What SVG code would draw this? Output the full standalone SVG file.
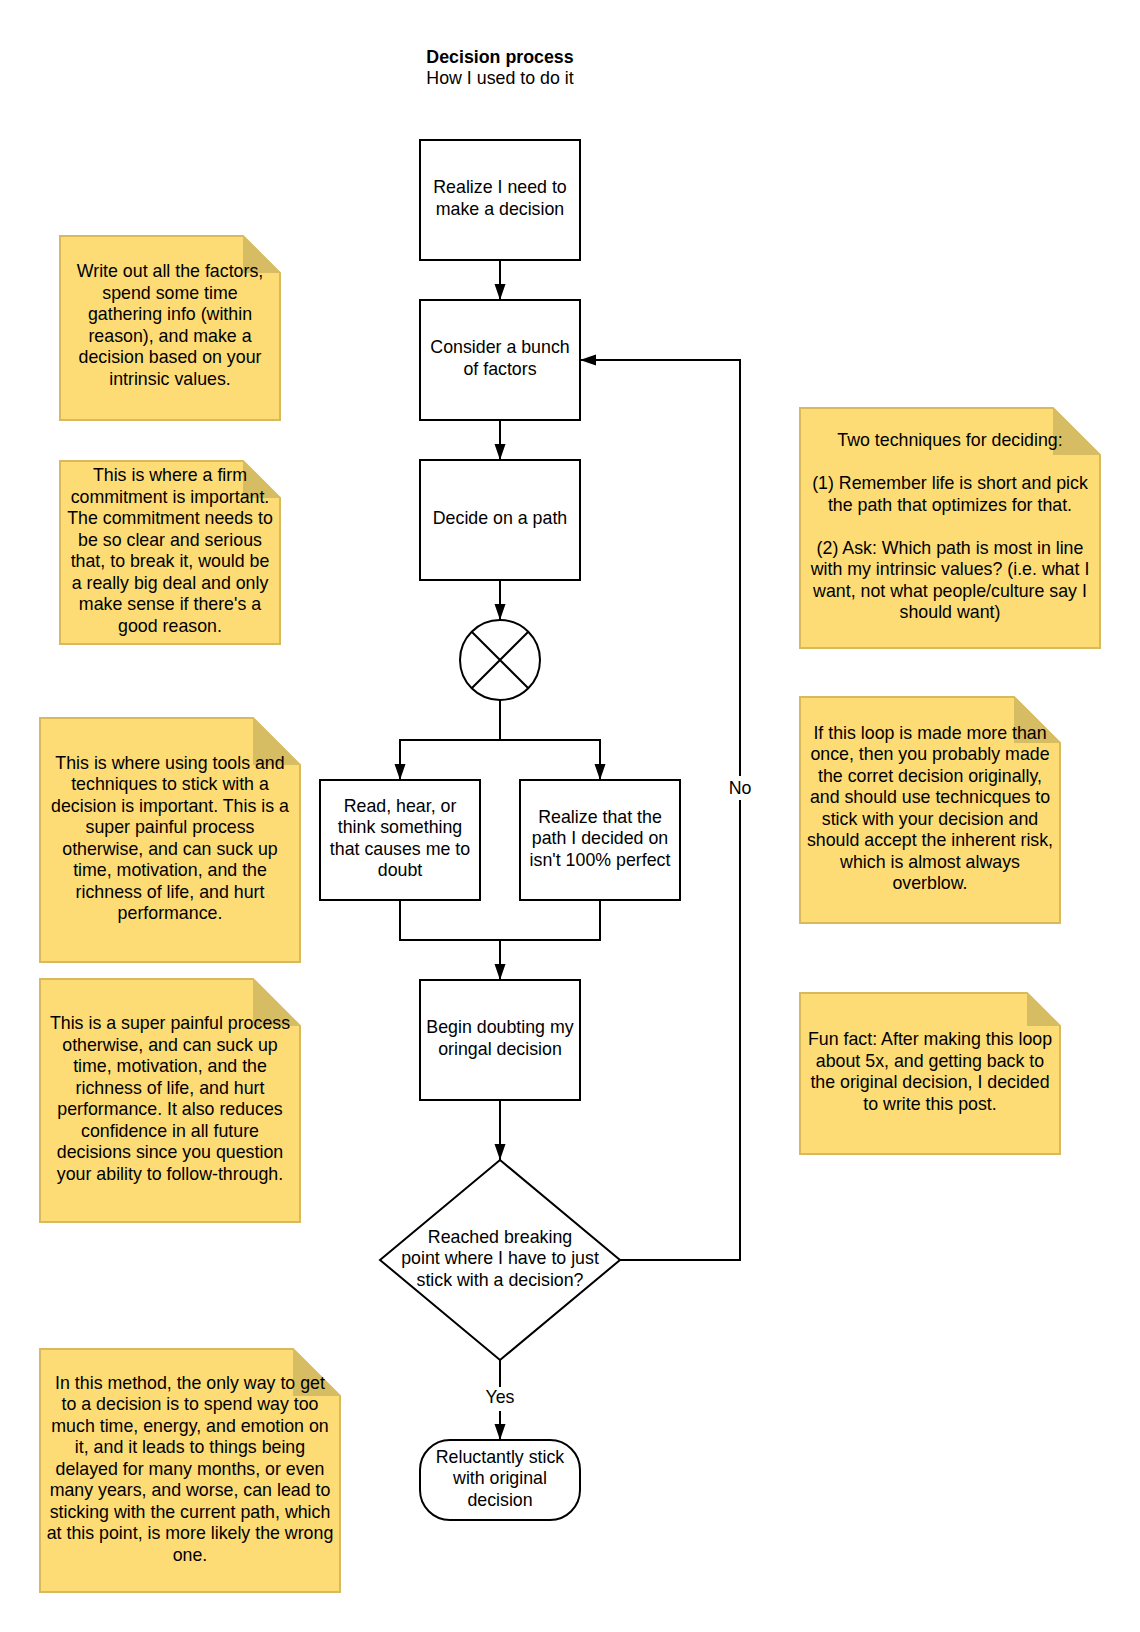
<svg xmlns="http://www.w3.org/2000/svg" width="1140" height="1632" viewBox="0 0 1140 1632">
<defs>
<marker id="arr" markerUnits="userSpaceOnUse" markerWidth="17" markerHeight="12" refX="16" refY="5.5" orient="auto">
<path d="M0,0 L16,5.5 L0,11 z" fill="#000"/>
</marker>
<style>
text{font-family:"Liberation Sans",Arial,sans-serif;font-size:17.8px;fill:#000;text-anchor:middle}
.b{font-weight:bold}
.box{fill:#fff;stroke:#000;stroke-width:2}
.note{fill:#FDDC76;stroke:#D8B95B;stroke-width:2}
.fold{fill:#D6BD63}
.con{fill:none;stroke:#000;stroke-width:2}
.lbl{fill:#fff}
</style>
</defs>
<rect width="1140" height="1632" fill="#fff"/>

<g id="title">
<text class="b" x="500" y="62.5">Decision process</text>
<text x="500" y="84">How I used to do it</text>
</g>

<g id="connectors">
<path class="con" d="M500,260 V300" marker-end="url(#arr)"/>
<path class="con" d="M500,420 V460" marker-end="url(#arr)"/>
<path class="con" d="M500,580 V620" marker-end="url(#arr)"/>
<path class="con" d="M500,700 V740 H400 V780" marker-end="url(#arr)"/>
<path class="con" d="M500,740 H600 V780" marker-end="url(#arr)"/>
<path class="con" d="M400,900 V940 H500 V980" marker-end="url(#arr)"/>
<path class="con" d="M600,900 V940 H500"/>
<path class="con" d="M500,1100 V1160" marker-end="url(#arr)"/>
<path class="con" d="M500,1360 V1440" marker-end="url(#arr)"/>
<path class="con" d="M620,1260 H740 V360 H580" marker-end="url(#arr)"/>
<rect class="lbl" x="724" y="776" width="32" height="24"/>
<text x="740" y="794">No</text>
<rect class="lbl" x="482" y="1387" width="36" height="24"/>
<text x="500" y="1403">Yes</text>
</g>

<g id="n-realize">
<rect class="box" x="420" y="140" width="160" height="120"/>
<text x="500" y="193.3">Realize I need to</text>
<text x="500" y="214.8">make a decision</text>
</g>

<g id="n-consider">
<rect class="box" x="420" y="300" width="160" height="120"/>
<text x="500" y="353.3">Consider a bunch</text>
<text x="500" y="374.8">of factors</text>
</g>

<g id="n-decide">
<rect class="box" x="420" y="460" width="160" height="120"/>
<text x="500" y="524">Decide on a path</text>
</g>

<g id="n-junction">
<circle class="box" cx="500" cy="660" r="40"/>
<path class="con" d="M471.7,631.7 L528.3,688.3 M528.3,631.7 L471.7,688.3"/>
</g>

<g id="n-read">
<rect class="box" x="320" y="780" width="160" height="120"/>
<text x="400" y="811.8">Read, hear, or</text>
<text x="400" y="833.3">think something</text>
<text x="400" y="854.8">that causes me to</text>
<text x="400" y="876.3">doubt</text>
</g>

<g id="n-imperfect">
<rect class="box" x="520" y="780" width="160" height="120"/>
<text x="600" y="822.5">Realize that the</text>
<text x="600" y="844">path I decided on</text>
<text x="600" y="865.5">isn't 100% perfect</text>
</g>

<g id="n-doubt">
<rect class="box" x="420" y="980" width="160" height="120"/>
<text x="500" y="1033.3">Begin doubting my</text>
<text x="500" y="1054.8">oringal decision</text>
</g>

<g id="n-breaking">
<path class="box" d="M500,1160 L620,1260 L500,1360 L380,1260 z"/>
<text x="500" y="1242.5">Reached breaking</text>
<text x="500" y="1264">point where I have to just</text>
<text x="500" y="1285.5">stick with a decision?</text>
</g>

<g id="n-stick">
<rect class="box" x="420" y="1440" width="160" height="80" rx="30" ry="30"/>
<text x="500" y="1462.5">Reluctantly stick</text>
<text x="500" y="1484">with original</text>
<text x="500" y="1505.5">decision</text>
</g>

<g id="note-factors">
<path class="note" d="M60,236 H243 L280,273 V420 H60 z"/>
<path class="fold" d="M243,236 V273 H280 z"/>
<text x="170" y="277.3">Write out all the factors,</text>
<text x="170" y="298.8">spend some time</text>
<text x="170" y="320.3">gathering info (within</text>
<text x="170" y="341.8">reason), and make a</text>
<text x="170" y="363.3">decision based on your</text>
<text x="170" y="384.8">intrinsic values.</text>
</g>

<g id="note-commitment">
<path class="note" d="M60,461 H243 L280,498 V644 H60 z"/>
<path class="fold" d="M243,461 V498 H280 z"/>
<text x="170" y="481.3">This is where a firm</text>
<text x="170" y="502.8">commitment is important.</text>
<text x="170" y="524.3">The commitment needs to</text>
<text x="170" y="545.8">be so clear and serious</text>
<text x="170" y="567.3">that, to break it, would be</text>
<text x="170" y="588.8">a really big deal and only</text>
<text x="170" y="610.3">make sense if there's a</text>
<text x="170" y="631.8">good reason.</text>
</g>

<g id="note-tools">
<path class="note" d="M40,718 H253 L300,765 V962 H40 z"/>
<path class="fold" d="M253,718 V765 H300 z"/>
<text x="170" y="768.8">This is where using tools and</text>
<text x="170" y="790.3">techniques to stick with a</text>
<text x="170" y="811.8">decision is important. This is a</text>
<text x="170" y="833.3">super painful process</text>
<text x="170" y="854.8">otherwise, and can suck up</text>
<text x="170" y="876.3">time, motivation, and the</text>
<text x="170" y="897.8">richness of life, and hurt</text>
<text x="170" y="919.3">performance.</text>
</g>

<g id="note-painful">
<path class="note" d="M40,979 H253 L300,1026 V1222 H40 z"/>
<path class="fold" d="M253,979 V1026 H300 z"/>
<text x="170" y="1029.3">This is a super painful process</text>
<text x="170" y="1050.8">otherwise, and can suck up</text>
<text x="170" y="1072.3">time, motivation, and the</text>
<text x="170" y="1093.8">richness of life, and hurt</text>
<text x="170" y="1115.3">performance. It also reduces</text>
<text x="170" y="1136.8">confidence in all future</text>
<text x="170" y="1158.3">decisions since you question</text>
<text x="170" y="1179.8">your ability to follow-through.</text>
</g>

<g id="note-method">
<path class="note" d="M40,1349 H293 L340,1396 V1592 H40 z"/>
<path class="fold" d="M293,1349 V1396 H340 z"/>
<text x="190" y="1388.5">In this method, the only way to get</text>
<text x="190" y="1410">to a decision is to spend way too</text>
<text x="190" y="1431.5">much time, energy, and emotion on</text>
<text x="190" y="1453">it, and it leads to things being</text>
<text x="190" y="1474.5">delayed for many months, or even</text>
<text x="190" y="1496">many years, and worse, can lead to</text>
<text x="190" y="1517.5">sticking with the current path, which</text>
<text x="190" y="1539">at this point, is more likely the wrong</text>
<text x="190" y="1560.5">one.</text>
</g>

<g id="note-techniques">
<path class="note" d="M800,408 H1053 L1100,455 V648 H800 z"/>
<path class="fold" d="M1053,408 V455 H1100 z"/>
<text x="950" y="446">Two techniques for deciding:</text>
<text x="950" y="489">(1) Remember life is short and pick</text>
<text x="950" y="510.5">the path that optimizes for that.</text>
<text x="950" y="553.5">(2) Ask: Which path is most in line</text>
<text x="950" y="575">with my intrinsic values? (i.e. what I</text>
<text x="950" y="596.5">want, not what people/culture say I</text>
<text x="950" y="618">should want)</text>
</g>

<g id="note-loop">
<path class="note" d="M800,697 H1014 L1060,743 V923 H800 z"/>
<path class="fold" d="M1014,697 V743 H1060 z"/>
<text x="930" y="738.8">If this loop is made more than</text>
<text x="930" y="760.3">once, then you probably made</text>
<text x="930" y="781.8">the corret decision originally,</text>
<text x="930" y="803.3">and should use technicques to</text>
<text x="930" y="824.8">stick with your decision and</text>
<text x="930" y="846.3">should accept the inherent risk,</text>
<text x="930" y="867.8">which is almost always</text>
<text x="930" y="889.3">overblow.</text>
</g>

<g id="note-funfact">
<path class="note" d="M800,993 H1027 L1060,1026 V1154 H800 z"/>
<path class="fold" d="M1027,993 V1026 H1060 z"/>
<text x="930" y="1045.3">Fun fact: After making this loop</text>
<text x="930" y="1066.8">about 5x, and getting back to</text>
<text x="930" y="1088.3">the original decision, I decided</text>
<text x="930" y="1109.8">to write this post.</text>
</g>
</svg>
